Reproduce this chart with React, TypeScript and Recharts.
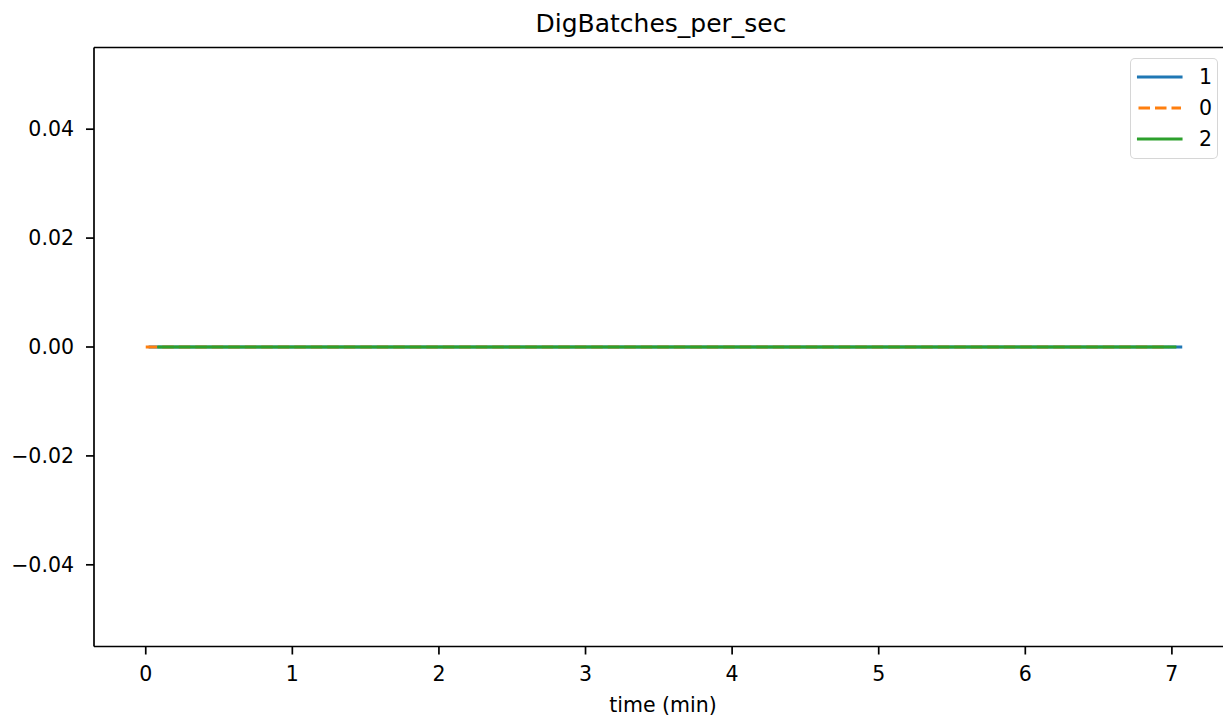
import { LineChart, Line, XAxis, YAxis, ReferenceLine, Legend, Label } from "recharts";

// series labels in legend order (also draw order)
const seriesNames = ["1", "0", "2"];
const seriesColors = ["#1f77b4", "#ff7f0e", "#2ca02c"];
const seriesDash = [undefined, "11.5 5", undefined];

// time (min) and values: all three stay flat at 0
const timeS1 = [0.03, 0.5, 1.0, 1.5, 2.0, 2.5, 3.0, 3.5, 4.0, 4.5, 5.0, 5.5, 6.0, 6.5, 7.06];
const valuesS1 = [0, 0, 0, 0, 0, 0, 0, 0, 0, 0, 0, 0, 0, 0, 0];
const timeS0 = [0.0, 0.5, 1.0, 1.5, 2.0, 2.5, 3.0, 3.5, 4.0, 4.5, 5.0, 5.5, 6.0, 6.5, 6.98];
const valuesS0 = [0, 0, 0, 0, 0, 0, 0, 0, 0, 0, 0, 0, 0, 0, 0];
const timeS2 = [0.09, 0.5, 1.0, 1.5, 2.0, 2.5, 3.0, 3.5, 4.0, 4.5, 5.0, 5.5, 6.0, 6.5, 7.02];
const valuesS2 = [0, 0, 0, 0, 0, 0, 0, 0, 0, 0, 0, 0, 0, 0, 0];

const xTicks = [0, 1, 2, 3, 4, 5, 6, 7];
const yTicks = [-0.04, -0.02, 0, 0.02, 0.04];
const xDomain: [number, number] = [-0.353, 7.41];
const yDomain: [number, number] = [-0.055, 0.055];

const FONT = "DejaVu Sans";

const toPoints = (ts: number[], vs: number[]) => ts.map((t, i) => ({ t, v: vs[i] }));
const seriesData = [toPoints(timeS1, valuesS1), toPoints(timeS0, valuesS0), toPoints(timeS2, valuesS2)];

const fmtY = (v: number) => v.toFixed(2).replace("-", "\u2212");

function LegendBox() {
    return (
        <div
            style={{
                width: 86,
                height: 99,
                border: "1.7px solid rgba(204,204,204,0.8)",
                borderRadius: 5,
                background: "rgba(255,255,255,0.8)",
                position: "relative",
                fontFamily: FONT,
                fontSize: 20.5,
            }}
        >
            {seriesNames.map((name, i) => (
                <div key={name} style={{ position: "absolute", left: 0, top: 5 + i * 31, height: 26, width: 86 }}>
                    <svg width={54} height={26} style={{ position: "absolute", left: 0, top: 0 }}>
                        <line
                            x1={7.5}
                            x2={50}
                            y1={13}
                            y2={13}
                            stroke={seriesColors[i]}
                            strokeWidth={3.1}
                            strokeDasharray={seriesDash[i]}
                            strokeLinecap={seriesDash[i] ? "butt" : "square"}
                        />
                    </svg>
                    <span style={{ position: "absolute", left: 68, top: 0, lineHeight: "26px" }}>{name}</span>
                </div>
            ))}
        </div>
    );
}

export default function App() {
    return (
        <div style={{ position: "absolute", left: 0, top: 0, width: 1223, height: 721, overflow: "hidden", background: "#fff" }}>
            <div
                style={{
                    position: "absolute",
                    left: 0,
                    top: 10.5,
                    width: 1322,
                    textAlign: "center",
                    fontFamily: FONT,
                    fontSize: 25,
                    lineHeight: "25px",
                    color: "#000",
                    whiteSpace: "nowrap",
                }}
            >
                DigBatches_per_sec
            </div>
            <LineChart width={1233} height={721} margin={{ top: 47.5, right: 1, left: 0, bottom: 0 }}>
                <XAxis
                    dataKey="t"
                    type="number"
                    domain={xDomain}
                    ticks={xTicks}
                    allowDataOverflow
                    height={74.5}
                    axisLine={{ stroke: "#000", strokeWidth: 1.7 }}
                    tickSize={8}
                    tickMargin={12}
                    tickLine={{ stroke: "#000", strokeWidth: 1.7 }}
                    tick={{ fill: "#000", fontSize: 20.5, fontFamily: FONT }}
                >
                    <Label
                        value="time (min)"
                        position="insideBottom"
                        offset={9}
                        style={{ fill: "#000", fontSize: 20.5, fontFamily: FONT }}
                    />
                </XAxis>
                <YAxis
                    dataKey="v"
                    type="number"
                    domain={yDomain}
                    ticks={yTicks}
                    allowDataOverflow
                    width={94}
                    axisLine={{ stroke: "#000", strokeWidth: 1.7 }}
                    tickSize={8}
                    tickMargin={12}
                    tickFormatter={fmtY}
                    tickLine={{ stroke: "#000", strokeWidth: 1.7 }}
                    tick={{ fill: "#000", fontSize: 20.5, fontFamily: FONT }}
                />
                {/* top spine */}
                <ReferenceLine y={yDomain[1]} stroke="#000" strokeWidth={1.7} ifOverflow="visible" />
                {seriesNames.map((name, i) => (
                    <Line
                        key={name}
                        data={seriesData[i]}
                        dataKey="v"
                        name={name}
                        type="linear"
                        stroke={seriesColors[i]}
                        strokeWidth={3.1}
                        strokeDasharray={seriesDash[i]}
                        strokeLinecap={seriesDash[i] ? "butt" : "square"}
                        dot={false}
                        activeDot={false}
                        isAnimationActive={false}
                    />
                ))}
                <Legend
                    layout="horizontal"
                    verticalAlign="middle"
                    align="center"
                    content={() => <LegendBox />}
                    wrapperStyle={{ position: "absolute", left: 1130, top: 58, width: 90, height: 103 }}
                />
            </LineChart>
        </div>
    );
}
